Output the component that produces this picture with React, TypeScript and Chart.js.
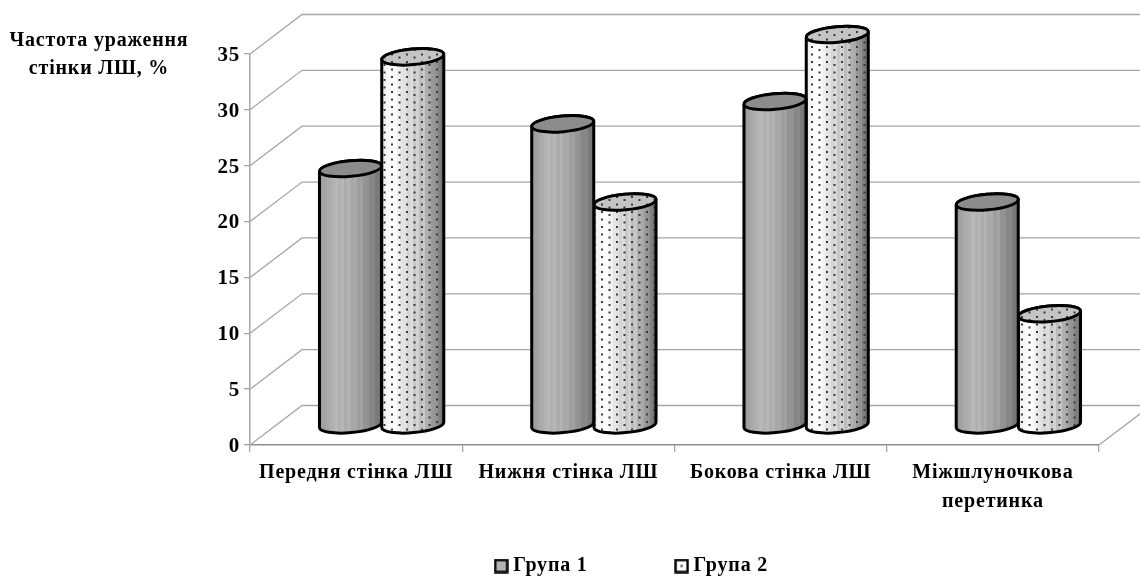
import React, { useEffect, useRef } from "react";
import { Chart, registerables, BarController, BarElement } from "chart.js";

const categories: (string | string[])[] = [
  "Передня стінка ЛШ",
  "Нижня стінка ЛШ",
  "Бокова стінка ЛШ",
  ["Міжшлуночкова", "перетинка"],
];
const group1Values = [23, 27, 29, 20];
const group2Values = [33, 20, 35, 10];
const seriesNames = ["Група 1", "Група 2"];
const yTicks = [0, 5, 10, 15, 20, 25, 30, 35];
const yTitleLines = ["Частота ураження", "стінки ЛШ, %"];

const FONT = '"Liberation Serif", "Times New Roman", serif';
const DX = 25.5;
const DY = -19.5;
const WALL_DX = 52;
const WALL_DY = -39.5;
const GRID = "#a6a6a6";
const LEGEND_PADDING = 92;

function stripeGradient(
  ctx: CanvasRenderingContext2D,
  x0: number,
  x1: number,
  colors: string[]
) {
  const g = ctx.createLinearGradient(x0, 0, x1, 0);
  colors.forEach((c, i) => {
    g.addColorStop(i / colors.length, c);
    g.addColorStop((i + 1) / colors.length, c);
  });
  return g;
}

const STRIPES_A = [
  "#9a9a9a", "#a2a2a2", "#a8a8a8", "#adadad", "#b2b2b2", "#b8b8b8", "#b0b0b0", "#b6b6b6",
  "#acacac", "#b2b2b2", "#a8a8a8", "#aaaaaa", "#9e9e9e", "#a2a2a2", "#949494", "#929292",
  "#868686", "#888888", "#7a7a7a", "#747474",
];
const STRIPES_B = [
  "#eeeeee", "#f6f6f6", "#fbfbfb", "#ffffff", "#fdfdfd", "#f2f2f2", "#e6e6e6", "#e2e2e2",
  "#d4d4d4", "#dcdcdc", "#c8c8c8", "#d2d2d2", "#bcbcbc", "#c8c8c8", "#b0b0b0", "#aaaaaa",
  "#989898", "#929292", "#808080", "#707070",
];

function dotPattern(ctx: CanvasRenderingContext2D, bg: string | null) {
  const c = document.createElement("canvas");
  c.width = 15;
  c.height = 15;
  const p = c.getContext("2d")!;
  if (bg) {
    p.fillStyle = bg;
    p.fillRect(0, 0, 15, 15);
  }
  p.fillStyle = "#3a3a3a";
  [
    [1, 1],
    [8.5, 4],
    [1, 8.5],
    [8.5, 11.5],
  ].forEach(([x, y]) => {
    p.fillRect(x, y, 2, 2);
  });
  return ctx.createPattern(c, "repeat")!;
}

function legendIcon(fill: string, dot: boolean) {
  const c = document.createElement("canvas");
  c.width = 15;
  c.height = 15;
  const p = c.getContext("2d")!;
  p.fillStyle = fill;
  p.strokeStyle = "#000";
  p.lineWidth = 2.4;
  p.beginPath();
  p.rect(1.5, 1.5, 12, 12);
  p.fill();
  p.stroke();
  if (dot) {
    p.fillStyle = "#222";
    p.fillRect(6.5, 6.5, 2, 2);
  }
  return c;
}

class CylinderElement extends BarElement {
  static id = "cylinder";
  draw(ctx: CanvasRenderingContext2D) {
    const { x, y, base, width } = this.getProps(["x", "y", "base", "width"], true) as any;
    const dotted = (this as any).options.backgroundColor === "dotted";
    const cx = x + DX;
    const cyTop = y + DY;
    const cyBot = base + DY;
    const a = width / 2;
    const b = 7.8;
    const rot = -0.09;
    const ex = a * Math.cos(rot);
    const ey = a * Math.sin(rot);
    ctx.save();
    ctx.lineWidth = 3;
    ctx.strokeStyle = "#000";
    ctx.lineJoin = "round";

    const body = () => {
      ctx.beginPath();
      ctx.moveTo(cx - ex, cyTop - ey);
      ctx.lineTo(cx - ex, cyBot - ey);
      ctx.ellipse(cx, cyBot, a, b, rot, Math.PI, 0, true);
      ctx.lineTo(cx + ex, cyTop + ey);
      ctx.ellipse(cx, cyTop, a, b, rot, 0, Math.PI, true);
      ctx.closePath();
    };
    const top = () => {
      ctx.beginPath();
      ctx.ellipse(cx, cyTop, a, b, rot, 0, Math.PI * 2);
      ctx.closePath();
    };
    body();
    ctx.fillStyle = stripeGradient(ctx, cx - a, cx + a, dotted ? STRIPES_B : STRIPES_A);
    ctx.fill();
    if (dotted) {
      ctx.fillStyle = dotPattern(ctx, null);
      ctx.fill();
    }
    ctx.stroke();
    top();
    ctx.fillStyle = dotted ? dotPattern(ctx, "#c4c4c4") : "#8c8c8c";
    ctx.fill();
    ctx.stroke();
    ctx.restore();
  }
}

class CylinderController extends BarController {
  static id = "cylinder";
  static defaults = { ...(BarController as any).defaults, dataElementType: "cylinder" };
  static overrides = (BarController as any).overrides;
}

Chart.register(...registerables, CylinderElement as any, CylinderController as any);

const shifted = new WeakSet<object>();

const wallPlugin = {
  id: "wall",
  beforeLayout(chart: any) {
    const legend = chart.legend;
    if (legend && !legend.__patched) {
      legend.__patched = true;
      const fit = legend.fit;
      legend.fit = function () {
        fit.call(this);
        this.height = 60;
      };
    }
  },
  afterLayout(chart: any) {
    const legend = chart.legend;
    if (legend) {
      legend.left = 116;
      legend.right = 1140;
      legend.top = 556 - LEGEND_PADDING;
    }
  },
  beforeDraw(chart: any) {
    (chart.ctx as any).letterSpacing = "0.8px";
    const items = chart.scales.y.getLabelItems();
    if (!shifted.has(items)) {
      shifted.add(items);
      items.forEach((it: any) => {
        it.options.translation = [it.options.translation[0], it.options.translation[1] + 1.5];
      });
    }
  },
  beforeDatasetsDraw(chart: any) {
    const { ctx, chartArea, scales } = chart;
    const yS = scales.y;
    const { left, right } = chartArea;
    ctx.save();
    ctx.strokeStyle = GRID;
    ctx.lineWidth = 1.3;
    yTicks.forEach((t) => {
      const py = yS.getPixelForValue(t);
      ctx.beginPath();
      ctx.moveTo(left, py);
      ctx.lineTo(left + WALL_DX, py + WALL_DY);
      ctx.lineTo(right + WALL_DX, py + WALL_DY);
      ctx.stroke();
    });
    const py0 = yS.getPixelForValue(0);
    ctx.beginPath();
    ctx.moveTo(right, py0);
    ctx.lineTo(right + WALL_DX, py0 + WALL_DY);
    ctx.stroke();
    ctx.restore();
  },
  afterDraw(chart: any) {
    const { ctx } = chart;
    ctx.save();
    ctx.fillStyle = "#000";
    ctx.font = `bold 20px ${FONT}`;
    ctx.textAlign = "center";
    ctx.textBaseline = "middle";
    yTitleLines.forEach((l, i) => ctx.fillText(l, 99, 41 + i * 28));
    ctx.restore();
  },
};

export default function App() {
  const ref = useRef<HTMLCanvasElement>(null);
  useEffect(() => {
    const canvas = ref.current!;
    const chart = new Chart(canvas, {
      type: "cylinder" as any,
      data: {
        labels: categories as any,
        datasets: [
          { label: seriesNames[0], data: group1Values, backgroundColor: "solid", clip: false },
          { label: seriesNames[1], data: group2Values, backgroundColor: "dotted", clip: false },
        ] as any,
      },
      options: {
        animation: false,
        responsive: false,
        devicePixelRatio: 1,
        layout: { padding: { left: 0, top: 54, right: 41, bottom: 0 } },
        datasets: { cylinder: { categoryPercentage: 0.587, barPercentage: 1 } } as any,
        scales: {
          x: {
            type: "category",
            offset: true,
            grid: {
              offset: true,
              drawOnChartArea: false,
              color: GRID,
              tickColor: GRID,
              tickLength: 7,
              lineWidth: 1.3,
            },
            border: { color: "#8e8e8e", width: 1.5 },
            ticks: {
              color: "#000",
              font: { family: FONT, size: 20, weight: "bold", lineHeight: 1.45 },
              padding: 6,
              maxRotation: 0,
              autoSkip: false,
            },
            afterFit(scale: any) {
              scale.height = 72;
            },
          },
          y: {
            type: "linear",
            min: 0,
            max: 35,
            grid: {
              drawOnChartArea: false,
              color: GRID,
              tickColor: GRID,
              tickLength: 6,
              lineWidth: 1.3,
            },
            border: { color: GRID, width: 1.5 },
            ticks: {
              stepSize: 5,
              color: "#000",
              font: { family: FONT, size: 21, weight: "bold" },
              padding: 4,
            },
            afterFit(scale: any) {
              scale.width = 250;
            },
          },
        } as any,
        plugins: {
          title: { display: false },
          tooltip: { enabled: false },
          legend: {
            display: true,
            position: "bottom",
            labels: {
              color: "#000",
              font: { family: FONT, size: 20, weight: "bold" },
              usePointStyle: true,
              pointStyleWidth: 4,
              boxHeight: 13,
              padding: LEGEND_PADDING,
              generateLabels: () => [
                {
                  text: seriesNames[0],
                  pointStyle: legendIcon("#b4b4b4", false),
                  datasetIndex: 0,
                },
                {
                  text: seriesNames[1],
                  pointStyle: legendIcon("#ffffff", true),
                  datasetIndex: 1,
                },
              ],
            },
          },
        },
      } as any,
      plugins: [wallPlugin],
    });
    return () => chart.destroy();
  }, []);
  return (
    <div style={{ position: "fixed", left: 0, top: 0, width: 1140, height: 577, background: "#fff" }}>
      <canvas ref={ref} width={1140} height={577} style={{ display: "block" }} />
    </div>
  );
}
